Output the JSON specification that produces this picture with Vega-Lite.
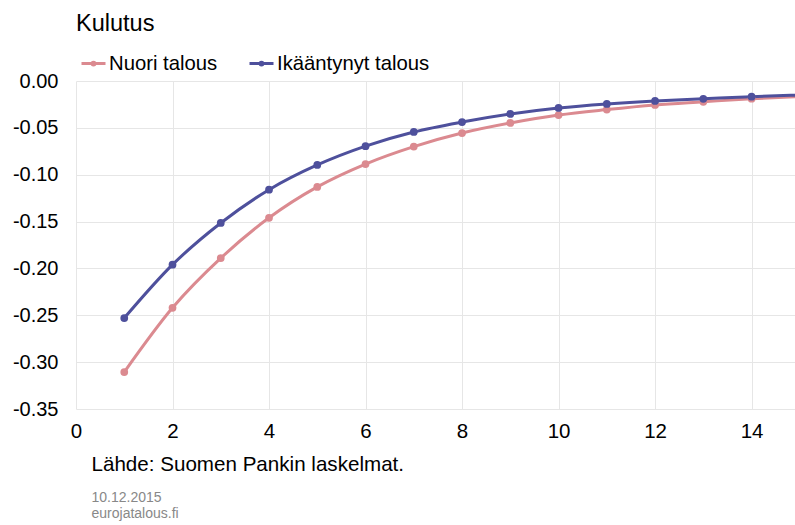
{
  "$schema": "https://vega.github.io/schema/vega-lite/v6.json",
  "width": 719,
  "height": 328,
  "autosize": {"type": "none"},
  "padding": {"left": 76, "top": 81, "right": 0, "bottom": 116},
  "background": "white",
  "config": {"font": "Liberation Sans", "view": {"stroke": null}},
  "title": {"text": "Kulutus", "anchor": "start", "frame": "group", "fontSize": 23.5, "fontWeight": "normal", "color": "#000000", "offset": 15},
  "data": {"values": [
    {"x": 1, "series": "Nuori talous", "value": -0.3106},
    {"x": 2, "series": "Nuori talous", "value": -0.2420},
    {"x": 3, "series": "Nuori talous", "value": -0.1890},
    {"x": 4, "series": "Nuori talous", "value": -0.1460},
    {"x": 5, "series": "Nuori talous", "value": -0.1130},
    {"x": 6, "series": "Nuori talous", "value": -0.0886},
    {"x": 7, "series": "Nuori talous", "value": -0.0700},
    {"x": 8, "series": "Nuori talous", "value": -0.0555},
    {"x": 9, "series": "Nuori talous", "value": -0.0448},
    {"x": 10, "series": "Nuori talous", "value": -0.0363},
    {"x": 11, "series": "Nuori talous", "value": -0.0305},
    {"x": 12, "series": "Nuori talous", "value": -0.0256},
    {"x": 13, "series": "Nuori talous", "value": -0.0222},
    {"x": 14, "series": "Nuori talous", "value": -0.0189},
    {"x": 15, "series": "Nuori talous", "value": -0.0165},
    {"x": 1, "series": "Ikääntynyt talous", "value": -0.2530},
    {"x": 2, "series": "Ikääntynyt talous", "value": -0.1960},
    {"x": 3, "series": "Ikääntynyt talous", "value": -0.1515},
    {"x": 4, "series": "Ikääntynyt talous", "value": -0.1160},
    {"x": 5, "series": "Ikääntynyt talous", "value": -0.0896},
    {"x": 6, "series": "Ikääntynyt talous", "value": -0.0695},
    {"x": 7, "series": "Ikääntynyt talous", "value": -0.0544},
    {"x": 8, "series": "Ikääntynyt talous", "value": -0.0438},
    {"x": 9, "series": "Ikääntynyt talous", "value": -0.0352},
    {"x": 10, "series": "Ikääntynyt talous", "value": -0.0288},
    {"x": 11, "series": "Ikääntynyt talous", "value": -0.0245},
    {"x": 12, "series": "Ikääntynyt talous", "value": -0.0213},
    {"x": 13, "series": "Ikääntynyt talous", "value": -0.0190},
    {"x": 14, "series": "Ikääntynyt talous", "value": -0.0167},
    {"x": 15, "series": "Ikääntynyt talous", "value": -0.0150}
  ]},
  "layer": [
    {
      "mark": {"type": "line", "interpolate": "monotone", "strokeWidth": 3, "clip": true},
      "encoding": {
        "x": {"field": "x", "type": "quantitative", "scale": {"domain": [0, 14.9], "nice": false},
          "axis": {"orient": "bottom", "values": [0, 2, 4, 6, 8, 10, 12, 14], "labelFontSize": 20.5, "labelColor": "#000000", "labelPadding": 12, "ticks": false, "domain": false, "grid": true, "gridColor": "#e6e6e6", "labelFlush": false,
            "title": "Lähde: Suomen Pankin laskelmat.", "titleFontSize": 20.6, "titleFontWeight": "normal", "titleColor": "#000000", "titleAnchor": "start", "titleAlign": "left", "titleBaseline": "alphabetic", "titleX": 15, "titleY": 61}},
        "y": {"field": "value", "type": "quantitative", "scale": {"domain": [-0.35, 0], "nice": false, "zero": false},
          "axis": {"values": [-0.35, -0.3, -0.25, -0.2, -0.15, -0.1, -0.05, 0], "format": ".2f", "labelExpr": "replace(datum.label, '\u2212', '-')", "labelFontSize": 20, "labelColor": "#000000", "labelPadding": 18, "ticks": false, "domain": false, "grid": true, "gridColor": "#e6e6e6", "title": null, "labelFlush": false}},
        "color": {"field": "series", "type": "nominal",
          "scale": {"domain": ["Nuori talous", "Ikääntynyt talous"], "range": ["#db8a90", "#4e509c"]},
          "legend": {"orient": "none", "legendX": 4, "legendY": -31, "direction": "horizontal", "title": null,
            "symbolType": "M-1,0L1,0M-0.12,0a0.12,0.12 0 1,0 0.24,0a0.12,0.12 0 1,0 -0.24,0",
            "symbolSize": 576, "symbolStrokeWidth": 3, "labelFontSize": 20.3, "labelColor": "#000000", "labelOffset": 2, "columnPadding": 25}}
      }
    },
    {
      "mark": {"type": "point", "filled": true, "size": 60, "opacity": 1, "clip": true},
      "encoding": {
        "x": {"field": "x", "type": "quantitative",
          "axis": {"orient": "bottom", "labels": false, "ticks": false, "domain": false, "grid": false,
            "title": ["10.12.2015", "eurojatalous.fi"], "titleFontSize": 14, "titleFontWeight": "normal", "titleColor": "#888888", "titleLineHeight": 16, "titleAnchor": "start", "titleAlign": "left", "titleBaseline": "alphabetic", "titleX": 15, "titleY": 92}},
        "y": {"field": "value", "type": "quantitative"},
        "color": {"field": "series", "type": "nominal", "legend": null}
      }
    }
  ],
  "resolve": {"axis": {"x": "independent"}}
}
